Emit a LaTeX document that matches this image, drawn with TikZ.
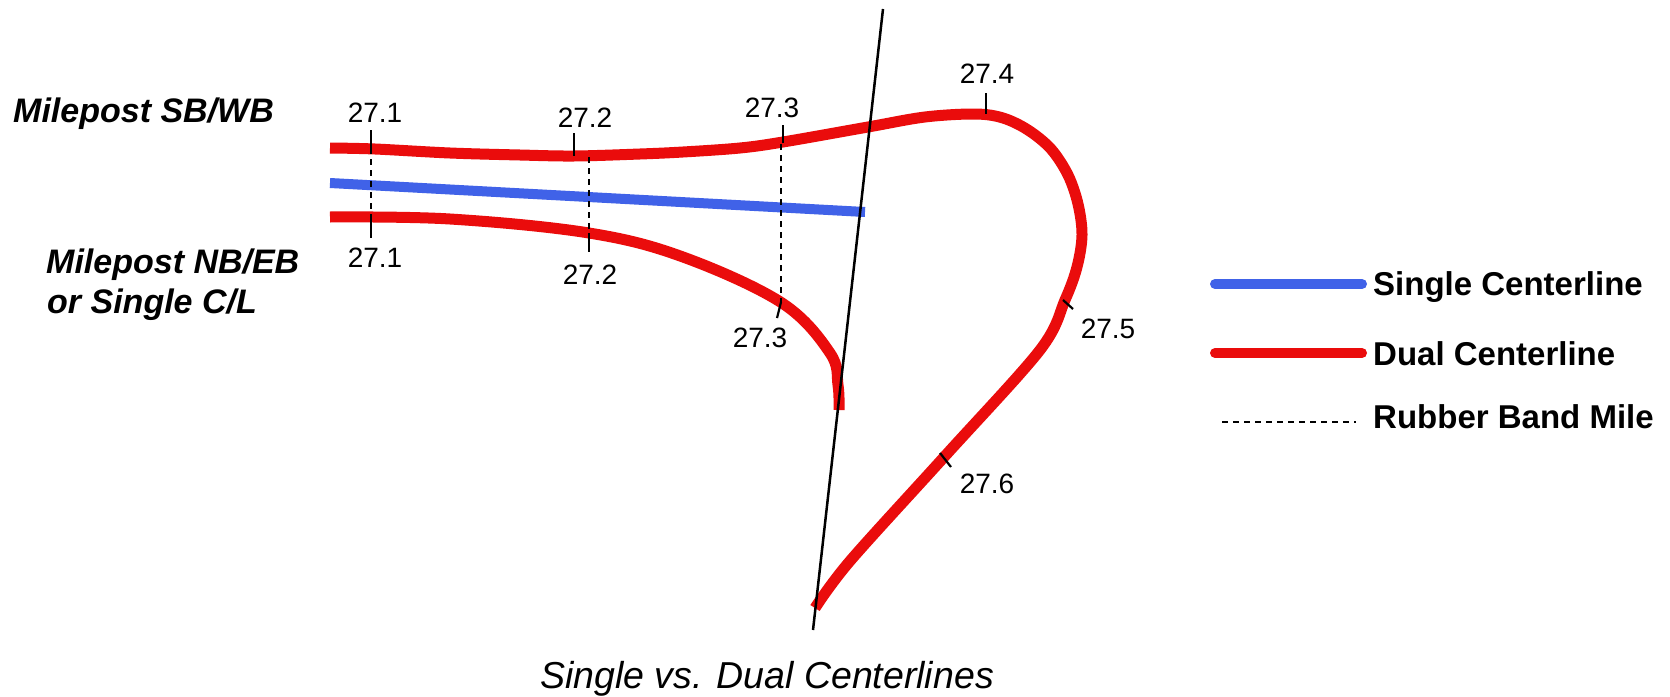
\documentclass[tikz,border=0pt]{standalone}
\usepackage{fontspec}
\setmainfont{Liberation Sans}
\definecolor{dualred}{RGB}{234,12,12}
\definecolor{singleblue}{RGB}{64,98,232}
\tikzset{
  dualline/.style={draw=dualred, line width=11pt, line join=round},
  singleline/.style={draw=singleblue, line width=10pt},
  guide/.style={draw=black, line width=2.5pt},
  tickmark/.style={draw=black, line width=2.2pt},
  rubber/.style={draw=black, line width=2pt, dash pattern=on 6pt off 5pt},
  milelab/.style={inner sep=0pt, anchor=base, font=\fontsize{28}{30}\selectfont},
  sidelab/.style={inner sep=0pt, anchor=base west, font=\fontsize{34}{38}\selectfont\bfseries\itshape},
  legendlab/.style={inner sep=0pt, anchor=base west, font=\fontsize{33}{36}\selectfont\bfseries},
  captionlab/.style={inner sep=0pt, anchor=base, font=\fontsize{37.5}{40}\selectfont\itshape}
}
\begin{document}
\begin{tikzpicture}[x=1pt,y=-1pt]
\useasboundingbox[fill=white] (0,0) rectangle (1670,696);

% single centerline
\draw[singleline] (330,183) -- (865,212);

% dual centerline SB/WB with loop
\draw[dualline] plot[smooth, tension=0.55] coordinates {
 (330,148) (375,149) (450,153) (520,155) (574,156) (640,154) (683,152)
 (740,148) (783,142) (868,127) (925,117) (975,114) (1003,118) (1028,130)
 (1051,149) (1068,175) (1078,204) (1082,235) (1077,267) (1065,300) (1040,350)
 (945,456) (850,561) (815,608)};

% dual centerline NB/EB
\draw[dualline] plot[smooth, tension=0.6] coordinates {
 (330,217) (450,219) (589,233) (683,257) (782,303) (830,353) (838,385) (839,410)};

% long black line
\coordinate (gtop) at (883,9);
\coordinate (gbot) at (813,630);
\draw[guide] (gtop) -- (gbot);

% mile ticks
\coordinate (t1a) at (371,130); \coordinate (t1b) at (371,148);
\coordinate (t1c) at (371,217); \coordinate (t1d) at (371,238);
\draw[tickmark] (t1a) -- (t1b);
\draw[rubber] (t1b) -- (t1c);
\draw[tickmark] (t1c) -- (t1d);

\coordinate (t2a) at (574,133); \coordinate (t2b) at (574,156);
\coordinate (t2c) at (589,157); \coordinate (t2d) at (589,233); \coordinate (t2e) at (589,252);
\draw[tickmark] (t2a) -- (t2b);
\draw[rubber] (t2c) -- (t2d);
\draw[tickmark] (t2d) -- (t2e);

\coordinate (t3a) at (783,125); \coordinate (t3b) at (783,143);
\coordinate (t3c) at (781,144); \coordinate (t3d) at (781,302); \coordinate (t3e) at (777,318);
\draw[tickmark] (t3a) -- (t3b);
\draw[rubber] (t3c) -- (t3d);
\draw[tickmark] (t3d) -- (t3e);

\coordinate (t4a) at (986,93); \coordinate (t4b) at (986,114);
\draw[tickmark] (t4a) -- (t4b);
\coordinate (t5a) at (1063,300); \coordinate (t5b) at (1073,309);
\draw[tickmark] (t5a) -- (t5b);
\coordinate (t6a) at (940,453); \coordinate (t6b) at (951,467);
\draw[tickmark] (t6a) -- (t6b);

% mile labels
\node[milelab] (m1t) at (375,122) {27.1};
\node[milelab] (m1b) at (375,267) {27.1};
\node[milelab] (m2t) at (585,127) {27.2};
\node[milelab] (m2b) at (590,284) {27.2};
\node[milelab] (m3t) at (772,117) {27.3};
\node[milelab] (m3b) at (760,347) {27.3};
\node[milelab] (m4) at (987,83) {27.4};
\node[milelab] (m5) at (1108,338) {27.5};
\node[milelab] (m6) at (987,493) {27.6};

% side labels
\node[sidelab] (sb) at (13,122) {Milepost SB/WB};
\node[sidelab] (nb) at (46,273) {Milepost NB/EB};
\node[sidelab] (sc) at (47,313) {or Single C/L};

% legend
\coordinate (l1a) at (1215,284); \coordinate (l1b) at (1362,284);
\coordinate (l2a) at (1215,353); \coordinate (l2b) at (1362,353);
\coordinate (l3a) at (1222,422); \coordinate (l3b) at (1356,422);
\draw[singleline, line cap=round] (l1a) -- (l1b);
\draw[dualline, line width=10pt, line cap=round] (l2a) -- (l2b);
\draw[rubber] (l3a) -- (l3b);
\node[legendlab] (lg1) at (1373,295) {Single Centerline};
\node[legendlab] (lg2) at (1373,365) {Dual Centerline};
\node[legendlab] (lg3) at (1373,428) {Rubber Band Mile};

% caption
\node[captionlab] (cap) at (767,688) {Single vs. Dual Centerlines};
\end{tikzpicture}
\end{document}
